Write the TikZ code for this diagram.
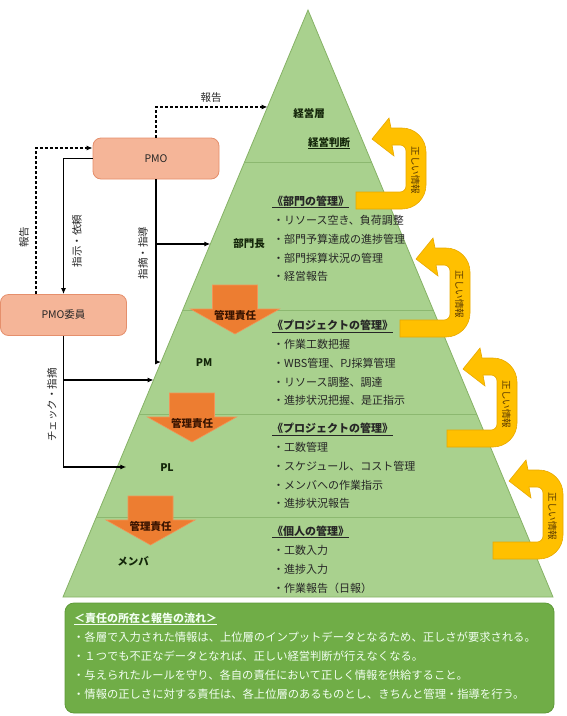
\documentclass[tikz,border=0pt]{standalone}
\usepackage{fontspec}
\setmainfont{Noto Sans CJK JP}
\usetikzlibrary{arrows.meta,calc}
\definecolor{pyrfill}{HTML}{A9D18E}
\definecolor{pyredge}{HTML}{86B266}
\definecolor{layerline}{HTML}{8CB870}
\definecolor{mgrfill}{HTML}{ED7D31}
\definecolor{mgrline}{HTML}{F29458}
\definecolor{mgrtext}{HTML}{3A1400}
\definecolor{yel}{HTML}{FFC000}
\definecolor{yelline}{HTML}{E8A900}
\definecolor{yeltext}{HTML}{5A3A00}
\definecolor{salmon}{HTML}{F5B598}
\definecolor{salmonline}{HTML}{E58F6C}
\definecolor{infofill}{HTML}{70AD47}
\definecolor{infoline}{HTML}{5E9A38}
\definecolor{itemtext}{HTML}{262626}
\definecolor{lbltext}{HTML}{14260A}
\newcommand\uturnarrow[4]{%
  \begin{scope}[shift={(#2,#3)}]
    \filldraw[uturnstyle] (0,#4) -- (46,#4) arc[start angle=90,end angle=0,radius=24]
      -- (70,24) arc[start angle=0,end angle=-90,radius=24]
      -- (35,0) -- (33,-10) -- (16,11) -- (38,28) -- (36,17) -- (44,17)
      arc[start angle=-90,end angle=0,radius=6] -- (50,{#4-23})
      arc[start angle=0,end angle=90,radius=6] -- (0,{#4-17}) -- cycle;
    \node[uturntext] (#1) at (59.5,{#4/2+2}) {正しい情報};
  \end{scope}}
\begin{document}
\begin{tikzpicture}[x=1pt,y=-1pt,
  lbl/.style={font=\bfseries\fontsize{10.5}{12}\selectfont, text=lbltext, inner sep=0pt},
  item/.style={font=\fontsize{11}{12}\selectfont, anchor=west, inner sep=0pt, text=itemtext},
  headline/.style={item, font=\bfseries\fontsize{11}{12}\selectfont},
  conn/.style={line width=1.1pt, -{Latex[length=6pt,width=5pt]}},
  dconn/.style={conn, dash pattern=on 3pt off 2pt},
  side/.style={font=\fontsize{10.5}{12}\selectfont, rotate=90, inner sep=0pt, text=itemtext},
  toplbl/.style={font=\fontsize{10.5}{12}\selectfont, inner sep=0pt, text=itemtext},
  pmobox/.style={rounded corners=8pt, fill=salmon, draw=salmonline, line width=0.8pt,
    minimum width=126pt, minimum height=41pt, font=\fontsize{10.5}{12}\selectfont, text=itemtext},
  mgr/.style={fill=mgrfill, draw=mgrline, line width=0.6pt},
  mgrlbl/.style={font=\bfseries\fontsize{10.5}{12}\selectfont, text=mgrtext, inner sep=0pt},
  uturnstyle/.style={fill=yel, draw=yelline, line width=0.6pt},
  uturntext/.style={font=\fontsize{9.5}{11}\selectfont, rotate=-90, inner sep=0pt, text=yeltext},
  infobox/.style={rounded corners=9pt, fill=infofill, draw=infoline, line width=0.8pt,
    minimum width=489pt, minimum height=110pt},
  infotext/.style={font=\fontsize{11.3}{13}\selectfont, anchor=west, inner sep=0pt, text=white!95!green}
]
\useasboundingbox (0,0) rectangle (566,716);
% pyramid
\coordinate (apex) at (308,10);
\coordinate (bl) at (63,597);
\coordinate (br) at (553,597);
\fill[pyrfill] (apex) -- (bl) -- (br) -- cycle;
\foreach \t in {0.2589,0.5111,0.6882,0.8637} {
  \draw[layerline, line width=0.7pt] ($(apex)!\t!(bl)$) -- ($(apex)!\t!(br)$);
}
\draw[pyredge, line width=0.8pt] (apex) -- (bl) -- (br) -- cycle;
% management responsibility arrows
\foreach \cx/\yh [count=\i] in {235/309, 192/417, 150.5/520} {
  \filldraw[mgr] (\cx-22.5,\yh-24) -- (\cx+22.5,\yh-24) -- (\cx+22.5,\yh) -- (\cx+44.5,\yh)
    -- (\cx,\yh+25) -- (\cx-44.5,\yh) -- (\cx-22.5,\yh) -- cycle;
  \node[mgrlbl] (mgr\i) at (\cx,\yh+6.5) {管理責任};
}
% u-turn arrows
\uturnarrow{ut1}{356}{128}{81}
\uturnarrow{ut2}{400}{248}{89}
\uturnarrow{ut3}{447}{358}{89}
\uturnarrow{ut4}{493}{470}{89}
% layer labels
\node[lbl] (keiei) at (309,113) {経営層};
\node[lbl] (handan) at (329,143) {\underline{経営判断}};
\node[lbl] (bumon) at (249,244) {部門長};
\node[lbl] (pm) at (204,363) {PM};
\node[lbl] (pl) at (167,468) {PL};
\node[lbl] (member) at (133,561) {メンバ};
% lists
\node[headline] (h1) at (272,202) {\underline{《部門の管理》}};
\foreach \s [count=\i] in {・リソース空き、負荷調整, ・部門予算達成の進捗管理, ・部門採算状況の管理, ・経営報告}
  \node[item] (a\i) at (273,202+\i*18.7) {\s};
\node[headline] (h2) at (272,326) {\underline{《プロジェクトの管理》}};
\foreach \s [count=\i] in {・作業工数把握, ・WBS管理、PJ採算管理, ・リソース調整、調達, ・進捗状況把握、是正指示}
  \node[item] (b\i) at (273,326+\i*18.7) {\s};
\node[headline] (h3) at (272,429) {\underline{《プロジェクトの管理》}};
\foreach \s [count=\i] in {・工数管理, ・スケジュール、コスト管理, ・メンバへの作業指示, ・進捗状況報告}
  \node[item] (c\i) at (273,429+\i*18.7) {\s};
\node[headline] (h4) at (272,532) {\underline{《個人の管理》}};
\foreach \s [count=\i] in {・工数入力, ・進捗入力, ・作業報告（日報）}
  \node[item] (d\i) at (273,532+\i*18.7) {\s};
% PMO boxes
\node[pmobox] (pmo) at (156,158.5) {PMO};
\node[pmobox] (pmoi) at (63.5,315) {PMO委員};
% edge points
\coordinate (etop) at ($(apex)!0.1652!(bl)$);
\coordinate (ebu) at ($(apex)!0.3986!(bl)$);
\coordinate (epm) at ($(apex)!0.5997!(bl)$);
\coordinate (epm2) at ($(apex)!0.6303!(bl)$);
\coordinate (epl) at ($(apex)!0.7785!(bl)$);
% connectors
\draw[dconn] (pmo.north) |- (etop);
\draw[dconn] ([xshift=-27.5pt]pmoi.north) |- ([yshift=10.5pt]pmo.west);
\draw[conn] (pmo.west) -| (pmoi.north);
\draw[conn] (pmo.south) |- (epm);
\draw[conn] (pmo.south |- ebu) -- (ebu);
\draw[conn] (pmoi.south) |- ([xshift=9pt]epl);
\draw[conn] (pmoi.south |- epm2) -- (epm2);
% connector labels
\node[toplbl] (rep1) at (211,98) {報告};
\node[side] (rep2) at (24,237) {報告};
\node[side] (shiji) at (77,241) {指示・依頼};
\node[side] (shiteki) at (143,253) {指摘・指導};
\node[side] (check) at (52,405) {チェック・指摘};
% info box
\node[infobox] (info) at (309.5,658) {};
\node[infotext, font=\bfseries\fontsize{11}{13}\selectfont] (it0) at (74,619) {\underline{＜責任の所在と報告の流れ＞}};
\node[infotext] (it1) at (73,637) {・各層で入力された情報は、上位層のインプットデータとなるため、正しさが要求される。};
\node[infotext] (it2) at (73,656) {・１つでも不正なデータとなれば、正しい経営判断が行えなくなる。};
\node[infotext] (it3) at (73,675) {・与えられたルールを守り、各自の責任において正しく情報を供給すること。};
\node[infotext] (it4) at (73,694) {・情報の正しさに対する責任は、各上位層のあるものとし、きちんと管理・指導を行う。};
\end{tikzpicture}
\end{document}
